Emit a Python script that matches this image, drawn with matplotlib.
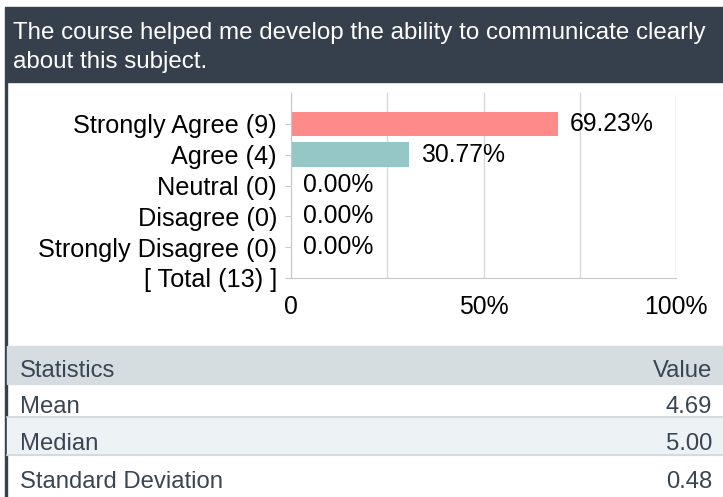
import matplotlib.pyplot as plt
import matplotlib.patches as patches

plt.rcParams['font.family'] = ['Liberation Sans', 'DejaVu Sans']

W, H = 723, 497

title_lines = ['The course helped me develop the ability to communicate clearly',
               'about this subject.']
categories = ['Strongly Agree', 'Agree', 'Neutral', 'Disagree', 'Strongly Disagree']
counts = [9, 4, 0, 0, 0]
bar_colors = ['#ff8a8a', '#96c7c7', '#c9c9c9', '#c9c9c9', '#c9c9c9']
stat_names = ['Mean', 'Median', 'Standard Deviation']
stat_values = ['4.69', '5.00', '0.48']

total = sum(counts)
percents = [c / total * 100 for c in counts]

dark = '#36404d'
grid_c = '#d8d8d8'


def fx(x):
    return x / W


def fy(y):
    return 1 - y / H


fig = plt.figure(figsize=(W / 100, H / 100), dpi=100)

# header band + left border
fig.patches.append(patches.Rectangle((fx(5), fy(82)), 1, 75 / H, transform=fig.transFigure,
                                     color=dark, zorder=0))
fig.patches.append(patches.Rectangle((fx(5), 0), 2 / W, fy(82), transform=fig.transFigure,
                                     color=dark, zorder=0))
fig.text(fx(13), fy(39), title_lines[0], color='white', fontsize=17.4, va='baseline')
fig.text(fx(13), fy(68), title_lines[1], color='white', fontsize=17.4, va='baseline')

# bar chart
ax = fig.add_axes([fx(291), fy(278), (676 - 291) / W, (278 - 93) / H])
ypos = [5, 4, 3, 2, 1]
bars = ax.barh(ypos, percents, height=0.8, color=bar_colors, zorder=2)
ax.bar_label(bars, labels=[f'{p:.2f}%' for p in percents], padding=8.5, fontsize=17.8)

ax.set_xlim(0, 100)
ax.set_ylim(0, 6)
ax.set_yticks(ypos + [0], [f'{c} ({n})' for c, n in zip(categories, counts)] + [f'[ Total ({total}) ]'])
ax.set_xticks([0, 25, 50, 75, 100], ['0', '', '50%', '', '100%'])
ax.tick_params(axis='y', length=4, color='#c8c8c8', labelsize=18.2, pad=6)
ax.tick_params(axis='x', length=0, labelsize=17.8, pad=12)
ax.grid(axis='x', color=grid_c, linewidth=1, zorder=0)
for s in ['top', 'right']:
    ax.spines[s].set_visible(False)
for s in ['left', 'bottom']:
    ax.spines[s].set_color('#c8c8c8')

# statistics table
fig.patches.append(patches.Rectangle((fx(7), fy(384)), 1, 38 / H, transform=fig.transFigure,
                                     color='#d6dde0', zorder=0))
fig.patches.append(patches.Rectangle((fx(7), fy(455)), 1, 38 / H, transform=fig.transFigure,
                                     color='#edf2f5', zorder=0))
for yy in [417, 455]:
    fig.add_artist(plt.Line2D([fx(7), 1], [fy(yy), fy(yy)], color='#cfd6db', linewidth=1.2))

tcol = '#3a4553'
fig.text(fx(20), fy(377), 'Statistics', color=tcol, fontsize=17.2, va='baseline')
fig.text(fx(712), fy(377), 'Value', color=tcol, fontsize=17.2, va='baseline', ha='right')
for i, (n, v) in enumerate(zip(stat_names, stat_values)):
    yb = 413 + i * 37.5
    fig.text(fx(20), fy(yb), n, color=tcol, fontsize=17.2, va='baseline')
    fig.text(fx(712), fy(yb), v, color=tcol, fontsize=17.2, va='baseline', ha='right')

fig.savefig('out.png', dpi=100)
